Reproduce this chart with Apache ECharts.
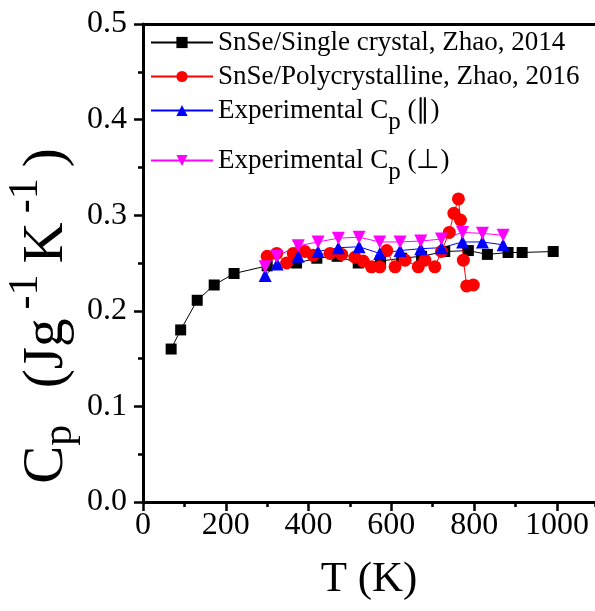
<!DOCTYPE html>
<html><head><meta charset="utf-8">
<script src="https://cdn.jsdelivr.net/npm/echarts@6/dist/echarts.min.js"></script>
<style>html,body{margin:0;padding:0;background:#fff}#c{width:595px;height:611px}</style>
</head><body><div id="c"></div>
<script>
// Data (T in K, Cp in J g^-1 K^-1)
const singleT  = [68, 91, 131, 172, 220, 300, 371, 420, 469, 520, 574, 625, 673, 729, 786, 832, 882, 916, 991];
const singleCp = [0.160, 0.180, 0.211, 0.227, 0.239, 0.247, 0.250, 0.255, 0.257, 0.250, 0.252, 0.255, 0.257, 0.262, 0.263, 0.259, 0.261, 0.261, 0.262];
const polyT  = [300, 323, 347, 363, 391, 411, 452, 480, 512, 532, 552, 572, 589, 609, 633, 665, 681, 705, 721, 740, 751, 762, 767, 774, 782, 798];
const polyCp = [0.257, 0.260, 0.250, 0.260, 0.262, 0.258, 0.260, 0.259, 0.256, 0.252, 0.246, 0.246, 0.263, 0.246, 0.253, 0.246, 0.253, 0.246, 0.262, 0.282, 0.302, 0.317, 0.295, 0.253, 0.226, 0.227];
const parT  = [295, 324, 375, 423, 472, 522, 572, 621, 671, 721, 772, 820, 870];
const parCp = [0.237, 0.249, 0.257, 0.262, 0.266, 0.267, 0.260, 0.263, 0.265, 0.266, 0.272, 0.272, 0.269];
const perpT  = [295, 323, 375, 423, 472, 522, 572, 621, 671, 721, 772, 820, 870];
const perpCp = [0.246, 0.257, 0.268, 0.272, 0.276, 0.277, 0.272, 0.272, 0.273, 0.275, 0.282, 0.281, 0.279];
const xTicks = [0, 200, 400, 600, 800, 1000];
const yTicks = [0.0, 0.1, 0.2, 0.3, 0.4, 0.5];
const names = ['SnSe/Single crystal, Zhao, 2014', 'SnSe/Polycrystalline, Zhao, 2016', 'Experimental Cp (∥)', 'Experimental Cp (⊥)'];

const FONT = '"Liberation Serif", "Times New Roman", serif';
const pair = (xs, ys) => xs.map((x, i) => [x, ys[i]]);
const XMAX = 1092;

const chart = echarts.init(document.getElementById('c'), null, {renderer: 'canvas'});
const legendBase = {
  orient: 'horizontal', left: 150, padding: 0, itemWidth: 62, itemHeight: 14,
  textStyle: {fontFamily: FONT, fontSize: 27, color: '#000',
    rich: {sub: {fontFamily: FONT, fontSize: 25, verticalAlign: 'bottom', lineHeight: 48, color: '#000'}}},
  formatter: n => n.replace('Cp', 'C{sub|p}')
};
const series = [
  {name: names[0], data: pair(singleT, singleCp), color: '#000', symbol: 'rect', symbolSize: 11},
  {name: names[1], data: pair(polyT, polyCp), color: '#ff0000', symbol: 'circle', symbolSize: 13},
  {name: names[2], data: pair(parT, parCp), color: '#0000ff', symbol: 'triangle', symbolSize: 13},
  {name: names[3], data: pair(perpT, perpCp), color: '#ff00ff', symbol: 'triangle', symbolRotate: 180, symbolSize: 13}
].map(s => ({
  type: 'line', name: s.name, data: s.data, symbol: s.symbol, symbolSize: s.symbolSize,
  symbolRotate: s.symbolRotate || 0, showAllSymbol: true, animation: false,
  lineStyle: {color: s.color, width: 1}, itemStyle: {color: s.color, borderWidth: 0},
  xAxisIndex: 0, yAxisIndex: 0
}));

chart.setOption({
  animation: false,
  grid: {left: 143, right: 0, top: 24, bottom: 109, containLabel: false, outerBoundsMode: 'none'},
  legend: [
    Object.assign({}, legendBase, {data: [names[0]], top: 29}),
    Object.assign({}, legendBase, {data: [names[1]], top: 63}),
    Object.assign({}, legendBase, {data: [names[2]], top: 97}),
    Object.assign({}, legendBase, {data: [names[3]], top: 147})
  ],
  xAxis: [
    {type: 'value', position: 'bottom', min: 0, max: XMAX, interval: 200,
     axisLine: {show: true, onZero: false, lineStyle: {color: '#000', width: 3}},
     axisTick: {show: true, inside: false, length: 9, lineStyle: {color: '#000', width: 2.5}},
     axisLabel: {show: true, margin: 8, color: '#000', fontFamily: FONT, fontSize: 32, showMaxLabel: false,
       formatter: v => xTicks.indexOf(v) >= 0 ? String(v) : ''},
     splitLine: {show: false},
     name: 'T (K)', nameLocation: 'middle', nameGap: 56, nameMoveOverlap: false,
     nameTextStyle: {fontFamily: FONT, fontSize: 43, color: '#000'}},
    {type: 'value', position: 'bottom', min: 0, max: XMAX, interval: 100,
     axisLine: {show: false, onZero: false}, axisLabel: {show: false}, splitLine: {show: false},
     axisTick: {show: true, length: 5, lineStyle: {color: '#000', width: 2.5}}},
    {type: 'value', position: 'top', min: 0, max: XMAX,
     axisLine: {show: true, onZero: false, lineStyle: {color: '#000', width: 3}},
     axisTick: {show: false}, axisLabel: {show: false}, splitLine: {show: false}}
  ],
  yAxis: [
    {type: 'value', position: 'left', min: 0, max: 0.5, interval: 0.1,
     axisLine: {show: true, onZero: false, lineStyle: {color: '#000', width: 3}},
     axisTick: {show: true, length: 9, lineStyle: {color: '#000', width: 2.5}},
     minorTick: {show: true, splitNumber: 2, length: 5, lineStyle: {color: '#000', width: 2.5}},
     axisLabel: {margin: 16, color: '#000', fontFamily: FONT, fontSize: 32,
       formatter: v => Number(v).toFixed(1)},
     splitLine: {show: false},
     name: 'C{sub|p}  (Jg{sup|-1}K{sup|-1})', nameLocation: 'middle', nameRotate: 90, nameGap: 54,
     nameMoveOverlap: false,
     nameTextStyle: {fontFamily: FONT, fontSize: 57, color: '#000', padding: [0, 106, 0, 0],
       rich: {
         sub: {fontFamily: FONT, fontSize: 42, verticalAlign: 'bottom', lineHeight: 84, padding: [0, 8, 8, 0], color: '#000'},
         sup: {fontFamily: FONT, fontSize: 42, verticalAlign: 'top', padding: [0, 11, 0, 9], color: '#000'}
       }}}
  ],
  series: series
});
</script></body></html>
